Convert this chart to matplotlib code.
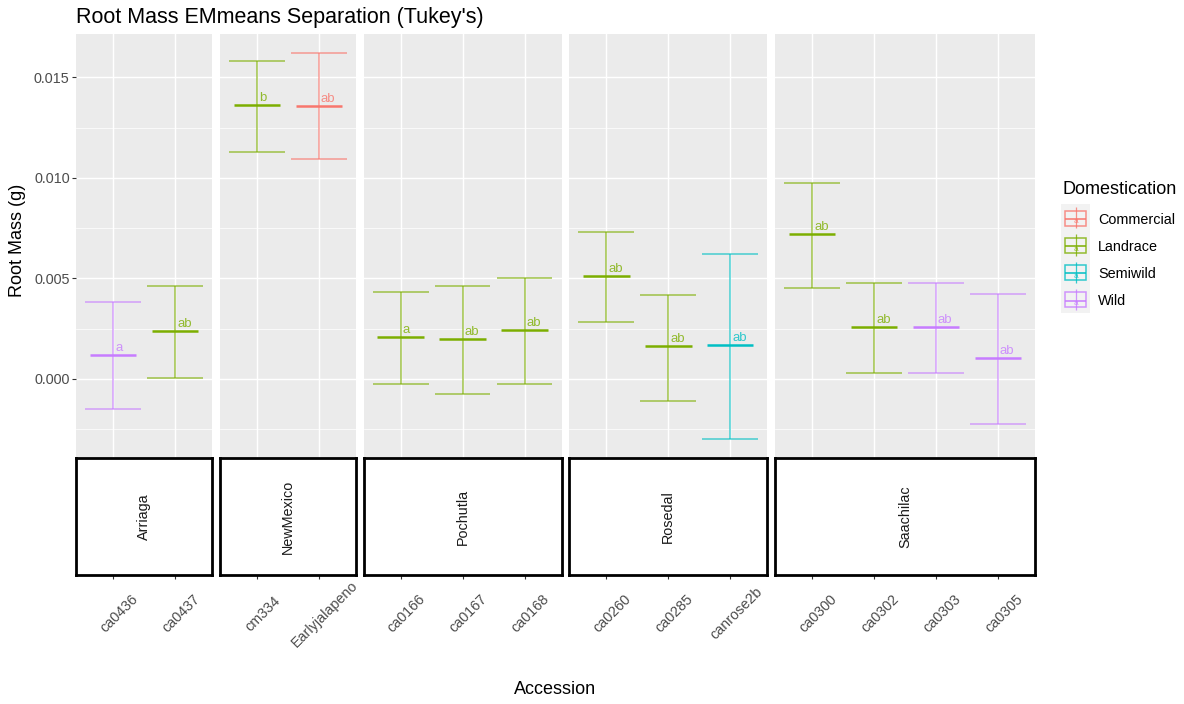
"""Root mass EMmeans with Tukey letters, faceted by site (ggplot-like look)."""

import matplotlib

matplotlib.use("Agg")

import matplotlib.pyplot as plt
import numpy as np
from matplotlib.patches import Rectangle
from matplotlib.ticker import AutoMinorLocator, FormatStrFormatter, MultipleLocator
from matplotlib.transforms import ScaledTranslation

plt.rcParams["font.family"] = ["Liberation Sans", "DejaVu Sans"]

SITES = ["Arriaga", "NewMexico", "Pochutla", "Rosedal", "Saachilac"]
ACCESSIONS = [
    "ca0436", "ca0437",
    "cm334", "Earlyjalapeno",
    "ca0166", "ca0167", "ca0168",
    "ca0260", "ca0285", "canrose2b",
    "ca0300", "ca0302", "ca0303", "ca0305",
]
ACCESSION_SITE = [
    "Arriaga", "Arriaga",
    "NewMexico", "NewMexico",
    "Pochutla", "Pochutla", "Pochutla",
    "Rosedal", "Rosedal", "Rosedal",
    "Saachilac", "Saachilac", "Saachilac", "Saachilac",
]
DOMESTICATION = [
    "Wild", "Landrace",
    "Landrace", "Commercial",
    "Landrace", "Landrace", "Landrace",
    "Landrace", "Landrace", "Semiwild",
    "Landrace", "Landrace", "Wild", "Wild",
]
EMMEAN = [
    0.00119, 0.00238,
    0.01361, 0.01356,
    0.00207, 0.00197, 0.00242,
    0.00510, 0.00163, 0.00168,
    0.00721, 0.00257, 0.00257, 0.00104,
]
LOWER = [
    -0.00149, 0.00005,
    0.01129, 0.01094,
    -0.00025, -0.00074, -0.00025,
    0.00282, -0.00109, -0.00297,
    0.00450, 0.00030, 0.00030, -0.00222,
]
UPPER = [
    0.00381, 0.00460,
    0.01580, 0.01619,
    0.00430, 0.00460, 0.00500,
    0.00733, 0.00416, 0.00619,
    0.00975, 0.00479, 0.00479, 0.00420,
]
LETTERS = [
    "a", "ab",
    "b", "ab",
    "a", "ab", "ab",
    "ab", "ab", "ab",
    "ab", "ab", "ab", "ab",
]
DOMESTICATION_LEVELS = ["Commercial", "Landrace", "Semiwild", "Wild"]
DOMESTICATION_COLORS = ["#F8766D", "#7CAE00", "#00BFC4", "#C77CFF"]

# layout in pixels
FIG_W, FIG_H = 1184, 704
PANEL_LEFT, PANEL_RIGHT, PANEL_GAP = 76, 1035, 7.5
PANEL_TOP, PANEL_BOTTOM, STRIP_BOTTOM = 34, 458, 575
TEXT_GREY = "#4D4D4D"
PANEL_GREY = "#EBEBEB"
SMALL_TEXT = 10.4


def _box(x0, y0, x1, y1):
    return [x0 / FIG_W, 1 - y1 / FIG_H, (x1 - x0) / FIG_W, (y1 - y0) / FIG_H]


def main():
    color_of = dict(zip(DOMESTICATION_LEVELS, DOMESTICATION_COLORS))
    fig = plt.figure(figsize=(FIG_W / 100, FIG_H / 100), dpi=100)

    lo, hi = min(LOWER), max(UPPER)
    pad = 0.05 * (hi - lo)
    ylim = (lo - pad, hi + pad)

    site_arr = np.array(ACCESSION_SITE)
    counts = [int((site_arr == s).sum()) for s in SITES]
    units = [n + 0.2 for n in counts]
    per_unit = (PANEL_RIGHT - PANEL_LEFT - PANEL_GAP * (len(SITES) - 1)) / sum(units)

    x_start = PANEL_LEFT
    for k, site in enumerate(SITES):
        width = units[k] * per_unit
        idx = [i for i, s in enumerate(ACCESSION_SITE) if s == site]
        xs = np.arange(len(idx))

        ax = fig.add_axes(_box(x_start, PANEL_TOP, x_start + width, PANEL_BOTTOM))
        strip = fig.add_axes(
            _box(x_start, PANEL_BOTTOM, x_start + width, STRIP_BOTTOM), sharex=ax
        )
        x_start += width + PANEL_GAP

        ax.set_facecolor(PANEL_GREY)
        for spine in ax.spines.values():
            spine.set_visible(False)
        ax.set_xlim(-0.6, len(idx) - 1 + 0.6)
        ax.set_ylim(*ylim)
        ax.yaxis.set_major_locator(MultipleLocator(0.005))
        ax.yaxis.set_minor_locator(AutoMinorLocator(2))
        ax.yaxis.set_major_formatter(FormatStrFormatter("%.3f"))
        ax.set_xticks(xs)
        ax.grid(which="major", color="white", linewidth=1.07)
        ax.grid(which="minor", axis="y", color="white", linewidth=0.53)
        ax.set_axisbelow(True)
        ax.tick_params(axis="x", bottom=False, labelbottom=False)
        ax.tick_params(which="minor", length=0)
        if k == 0:
            ax.tick_params(
                axis="y", which="major", length=2.9, width=0.8, color="#333333",
                labelcolor=TEXT_GREY, labelsize=SMALL_TEXT, pad=1.6,
            )
        else:
            ax.tick_params(axis="y", which="both", left=False, labelleft=False)

        for x, i in zip(xs, idx):
            col = color_of[DOMESTICATION[i]]
            ax.vlines(x, LOWER[i], UPPER[i], color=col, linewidth=1.1, alpha=0.7)
            ax.hlines([LOWER[i], UPPER[i]], x - 0.45, x + 0.45,
                      color=col, linewidth=1.1, alpha=0.7)
            ax.hlines(EMMEAN[i], x - 0.375, x + 0.375, color=col, linewidth=1.8)
            ax.annotate(
                LETTERS[i], (x, EMMEAN[i]), xytext=(1.5, 1.0),
                textcoords="offset points", ha="left", va="bottom",
                fontsize=9.5, color=col, alpha=0.8,
            )

        # strip under the panel
        strip.set_facecolor("white")
        for spine in strip.spines.values():
            spine.set_linewidth(2.0)
            spine.set_color("black")
        strip.set_yticks([])
        strip.set_xticks(xs)
        strip.set_xticklabels([ACCESSIONS[i] for i in idx])
        strip.tick_params(
            axis="x", length=2.9, width=0.8, color="#333333",
            labelcolor=TEXT_GREY, labelsize=SMALL_TEXT, pad=25,
        )
        offset = ScaledTranslation(6 / 100, 0, fig.dpi_scale_trans)
        for label in strip.get_xticklabels():
            label.set_rotation(45)
            label.set_rotation_mode("anchor")
            label.set_ha("center")
            label.set_va("center")
            label.set_transform(label.get_transform() + offset)
        strip.text(0.5, 0.5, site, transform=strip.transAxes, rotation=90,
                   ha="center", va="center", fontsize=SMALL_TEXT, color="#1A1A1A")

    fig.text(PANEL_LEFT / FIG_W, 1 - 23 / FIG_H,
             "Root Mass EMmeans Separation (Tukey's)",
             ha="left", va="baseline", fontsize=15.5, color="black")
    fig.text(18 / FIG_W, 1 - 240 / FIG_H, "Root Mass (g)", rotation=90,
             ha="center", va="center", fontsize=13, color="black")
    fig.text((PANEL_LEFT + PANEL_RIGHT) / 2 / FIG_W, 1 - 690 / FIG_H, "Accession",
             ha="center", va="center", fontsize=13, color="black")

    # legend
    fig.text(1062 / FIG_W, 1 - 189 / FIG_H, "Domestication",
             ha="left", va="center", fontsize=13, color="black")
    n_lev = len(DOMESTICATION_LEVELS)
    key_top, key_h = 204, 27.2
    key_ax = fig.add_axes(_box(1061, key_top, 1090, key_top + key_h * n_lev))
    key_ax.set_xlim(0, 1)
    key_ax.set_ylim(n_lev, 0)
    key_ax.set_axis_off()
    key_ax.add_patch(Rectangle((0, 0), 1, n_lev, facecolor="#F2F2F2",
                               edgecolor="none"))
    for r, (lev, col) in enumerate(zip(DOMESTICATION_LEVELS, DOMESTICATION_COLORS)):
        key_ax.add_patch(Rectangle((0.15, r + 0.25), 0.7, 0.55, facecolor="none",
                                   edgecolor=col, linewidth=1.1, alpha=0.8))
        key_ax.vlines(0.5, r + 0.12, r + 0.9, color=col, linewidth=0.9, alpha=0.8)
        key_ax.hlines(r + 0.55, 0.15, 0.85, color=col, linewidth=1.1)
        key_ax.text(0.5, r + 0.66, "a", ha="center", va="center", fontsize=6,
                    color=col, alpha=0.8)
        fig.text(1098 / FIG_W, 1 - (key_top + key_h * (r + 0.58)) / FIG_H, lev,
                 ha="left", va="center", fontsize=SMALL_TEXT, color="black")

    fig.savefig("out.png", dpi=100)
    plt.close(fig)


if __name__ == "__main__":
    main()
